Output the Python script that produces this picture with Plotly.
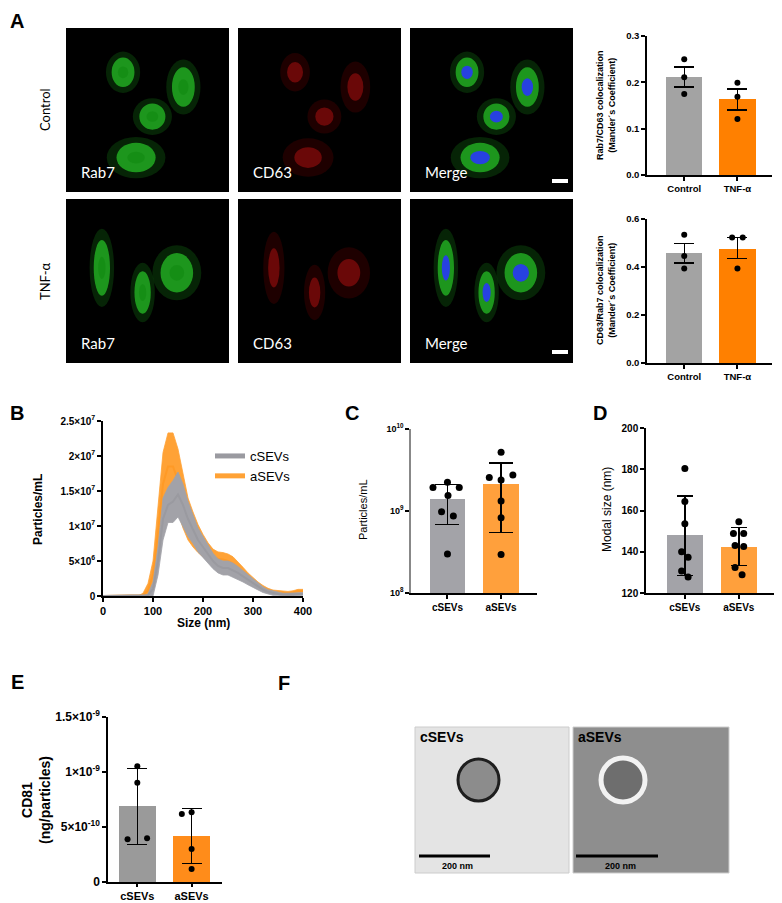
import plotly.graph_objects as go

W, H = 782, 903
OFF = 8  # the page body adds an 8 px margin, so shift everything back by it
FONT = "Liberation Sans, Arial, sans-serif"
NARROW = "Liberation Sans Narrow, Liberation Sans, Arial, sans-serif"
MICRO_FONT = "Lato, Noto Sans, sans-serif"

GREY_A, ORANGE_A = "#a3a3a3", "#ff8000"
GREY_C, ORANGE_C = "#a3a3a8", "#ffa03c"

# ---------------- data ----------------
# A - Mander's coefficients (mean +/- SEM, n = 3)
coloc_groups = ["Control", "TNF-α"]
rab7_cd63_mean = [0.212, 0.163]
rab7_cd63_hi = [0.233, 0.186]
rab7_cd63_lo = [0.190, 0.140]
rab7_cd63_pts = [[0.250, 0.211, 0.175], [0.199, 0.169, 0.121]]
cd63_rab7_mean = [0.457, 0.477]
cd63_rab7_hi = [0.499, 0.523]
cd63_rab7_lo = [0.417, 0.436]
cd63_rab7_pts = [[0.534, 0.446, 0.394], [0.523, 0.523, 0.394]]

# B - NTA size distribution (x10^6 particles/mL, mean +/- SEM)
nta_size = [0, 10, 20, 30, 40, 50, 60, 70, 80, 90, 100, 110, 120, 130, 140,
            150, 160, 170, 180, 190, 200, 210, 220, 230, 240, 250, 260, 270,
            280, 290, 300, 310, 320, 330, 340, 350, 360, 370, 380, 390, 400]
csev_mean = [0, 0, 0, 0, 0, 0, 0, 0, 0, 0.1, 1.0, 5.0, 11.0, 13.0, 13.5,
             14.5, 13.0, 11.0, 9.5, 8.0, 7.0, 6.0, 5.0, 4.3, 4.0, 4.0, 3.7, 3.3,
             2.8, 2.3, 1.8, 1.3, 0.9, 0.6, 0.4, 0.3, 0.2, 0.2, 0.2, 0.3, 0.3]
csev_sem = [0, 0, 0, 0, 0, 0, 0, 0, 0, 0.2, 1.0, 2.0, 3.0, 2.5, 3.0,
            3.2, 3.0, 2.5, 2.0, 1.7, 1.5, 1.3, 1.1, 1.0, 1.0, 1.0, 1.0, 0.9,
            0.8, 0.7, 0.6, 0.5, 0.4, 0.3, 0.3, 0.2, 0.2, 0.2, 0.2, 0.2, 0.2]
asev_mean = [0, 0, 0, 0, 0, 0, 0, 0, 0.1, 0.8, 3.0, 9.0, 16.0, 18.5, 18.5,
             16.5, 13.5, 11.0, 9.5, 8.2, 7.2, 6.3, 5.6, 5.3, 5.2, 5.0, 4.6, 4.0,
             3.3, 2.6, 2.0, 1.5, 1.1, 0.8, 0.6, 0.5, 0.4, 0.4, 0.5, 0.7, 0.7]
asev_sem = [0, 0, 0, 0, 0, 0, 0, 0, 0.3, 1.0, 2.0, 3.5, 4.5, 4.8, 4.8,
            4.5, 3.8, 3.0, 2.5, 2.0, 1.6, 1.3, 1.1, 1.0, 1.0, 1.0, 1.0, 0.9,
            0.8, 0.7, 0.6, 0.5, 0.4, 0.3, 0.25, 0.25, 0.25, 0.25, 0.25, 0.25, 0.25]

# C - particle concentration (particles/mL, mean +/- SD, n = 7)
sev_groups = ["cSEVs", "aSEVs"]
conc_mean = [1.39e9, 2.14e9]
conc_hi = [2.09e9, 3.83e9]
conc_lo = [6.9e8, 5.5e8]
conc_pts = [[1.93e9, 2.24e9, 1.93e9, 1.55e9, 9.8e8, 8.7e8, 3.0e8],
            [5.2e9, 2.57e9, 2.38e9, 2.74e9, 1.32e9, 8.3e8, 2.95e8]]
conc_jit = [[-0.27, 0.0, 0.22, 0.01, -0.11, 0.11, 0.0],
            [0.0, -0.22, 0.0, 0.22, 0.0, 0.0, 0.0]]

# D - modal size (nm, mean +/- SD, n = 7)
mode_mean = [148.0, 142.5]
mode_hi = [167.0, 151.8]
mode_lo = [128.4, 133.4]
mode_pts = [[180.4, 164.4, 153.6, 140.0, 137.3, 130.7, 127.8],
            [154.6, 148.8, 148.8, 143.0, 142.6, 132.4, 128.9]]
mode_jit = [[0.0, 0.0, 0.0, -0.06, 0.06, -0.06, 0.06],
            [0.0, -0.1, 0.09, -0.07, 0.09, -0.07, 0.06]]

# E - CD81 per particle (ng/particle, mean +/- SD, n = 4)
cd81_mean = [6.88e-10, 4.18e-10]
cd81_hi = [1.03e-9, 6.67e-10]
cd81_lo = [3.42e-10, 1.67e-10]
cd81_pts = [[1.052e-9, 9.03e-10, 3.88e-10, 3.97e-10],
            [6.18e-10, 6.33e-10, 3.0e-10, 1.18e-10]]
cd81_jit = [[0.0, 0.0, -0.18, 0.18], [-0.18, 0.0, 0.0, 0.0]]


def fx(p):
    return (p - OFF) / W


def fy(p):
    return 1 - (p - OFF) / H


fig = go.Figure()


def axis_pair(n, left, right, top, bottom, xrange, yrange, ylog=False):
    s = "" if n == 1 else str(n)
    line = dict(showline=True, linecolor="black", linewidth=1.5, ticks="outside",
                ticklen=4, tickwidth=1.5, tickcolor="black", showgrid=False,
                zeroline=False, automargin=False, fixedrange=True)
    fig.layout["xaxis" + s] = dict(domain=[fx(left), fx(right)], anchor="y" + s,
                                   range=xrange, **line)
    fig.layout["yaxis" + s] = dict(domain=[fy(bottom), fy(top)], anchor="x" + s,
                                   range=yrange, type="log" if ylog else "linear",
                                   **line)
    return s


def bar_panel(s, means, hi, lo, pts, jit, colors, width, cap, msize):
    xs, ys = [], []
    for i, vals in enumerate(pts):
        for v, o in zip(vals, jit[i]):
            xs.append(i + o)
            ys.append(v)
    fig.add_trace(go.Bar(
        x=[0, 1], y=means, width=width, marker=dict(color=colors, line_width=0),
        error_y=dict(type="data", symmetric=False,
                     array=[h - m for h, m in zip(hi, means)],
                     arrayminus=[m - l for m, l in zip(means, lo)],
                     color="black", thickness=1.4, width=cap),
        xaxis="x" + s, yaxis="y" + s, showlegend=False))
    fig.add_trace(go.Scatter(
        x=xs, y=ys, mode="markers", marker=dict(color="black", size=msize),
        xaxis="x" + s, yaxis="y" + s, showlegend=False))


def cat_ticks(s, labels, size, ticklen=4):
    fig.layout["xaxis" + s].update(tickvals=[0, 1], ticktext=labels, ticks="outside",
                                  ticklen=ticklen,
                                  tickfont=dict(family=FONT, size=size, color="black",
                                                weight="bold"))


def ytick_font(s, size, family=FONT):
    fig.layout["yaxis" + s].update(tickfont=dict(family=family, size=size,
                                                 color="black", weight="bold"))


zero_jit = [[0, 0, 0], [0, 0, 0]]

# A top: Rab7/CD63
s = axis_pair(1, 647, 772, 36, 175, [-0.7, 1.65], [0, 0.3])
bar_panel(s, rab7_cd63_mean, rab7_cd63_hi, rab7_cd63_lo, rab7_cd63_pts, zero_jit,
          [GREY_A, ORANGE_A], 0.68, 10, 6)
cat_ticks(s, coloc_groups, 9.5)
fig.layout.yaxis.update(tickvals=[0, 0.1, 0.2, 0.3], ticktext=["0.0", "0.1", "0.2", "0.3"])
ytick_font(s, 9.5)

# A bottom: CD63/Rab7
s = axis_pair(2, 647, 772, 219, 363, [-0.7, 1.65], [0, 0.6])
bar_panel(s, cd63_rab7_mean, cd63_rab7_hi, cd63_rab7_lo, cd63_rab7_pts,
          [[0, 0, 0], [-0.1, 0.1, 0]], [GREY_A, ORANGE_A], 0.68, 10, 6)
cat_ticks(s, coloc_groups, 9.5)
fig.layout.yaxis2.update(tickvals=[0, 0.2, 0.4, 0.6], ticktext=["0.0", "0.2", "0.4", "0.6"])
ytick_font(s, 9.5)

# B: NTA curves
s = axis_pair(3, 103, 303, 421, 596, [0, 400], [0, 2.5e7])
for mean, sem, band, line, name in [
        (asev_mean, asev_sem, "#ffa236", "#ff9a26", "aSEVs"),
        (csev_mean, csev_sem, "#a2a2a8", "#9a9aa0", "cSEVs")]:
    up = [(m + e) * 1e6 for m, e in zip(mean, sem)]
    lo = [max(m - e, 0) * 1e6 for m, e in zip(mean, sem)]
    fig.add_trace(go.Scatter(x=nta_size, y=up, mode="lines", line=dict(width=0.8, color=band),
                             xaxis="x3", yaxis="y3", showlegend=False, hoverinfo="skip"))
    fig.add_trace(go.Scatter(x=nta_size, y=lo, mode="lines", line=dict(width=0.8, color=band),
                             fill="tonexty", fillcolor=band, xaxis="x3", yaxis="y3",
                             showlegend=False, hoverinfo="skip"))
    fig.add_trace(go.Scatter(x=nta_size, y=[m * 1e6 for m in mean], mode="lines",
                             line=dict(width=2, color=line), name=name,
                             xaxis="x3", yaxis="y3", showlegend=False))
for name, col in [("cSEVs", "#9a9aa0"), ("aSEVs", "#ffa236")]:
    fig.add_trace(go.Scatter(x=[None], y=[None], mode="lines", name=name,
                             line=dict(width=5, color=col), xaxis="x3", yaxis="y3"))
fig.layout.xaxis3.update(tickvals=[0, 100, 200, 300, 400],
                         tickfont=dict(family=NARROW, size=11, color="black", weight="bold"))
fig.layout.yaxis3.update(
    tickvals=[0, 5e6, 1e7, 1.5e7, 2e7, 2.5e7],
    ticktext=["0", "5×10<sup>6</sup>", "1×10<sup>7</sup>", "1.5×10<sup>7</sup>",
              "2×10<sup>7</sup>", "2.5×10<sup>7</sup>"])
ytick_font(s, 10, NARROW)

# C: particle concentration (log)
s = axis_pair(4, 411, 537, 429, 593, [-0.68, 1.67], [8, 10], ylog=True)
bar_panel(s, conc_mean, conc_hi, conc_lo, conc_pts, conc_jit,
          [GREY_C, ORANGE_C], 0.66, 12, 7)
cat_ticks(s, sev_groups, 10)
fig.layout.yaxis4.update(tickvals=[1e8, 1e9, 1e10], linecolor="#888888",
                         ticktext=["10<sup>8</sup>", "10<sup>9</sup>", "10<sup>10</sup>"])
ytick_font(s, 9)

# D: modal size
s = axis_pair(5, 646, 775, 428, 593, [-0.72, 1.67], [120, 200])
bar_panel(s, mode_mean, mode_hi, mode_lo, mode_pts, mode_jit,
          [GREY_C, ORANGE_C], 0.67, 8, 7)
cat_ticks(s, sev_groups, 10)
fig.layout.yaxis5.update(tickvals=[120, 140, 160, 180, 200])
ytick_font(s, 10)

# E: CD81
s = axis_pair(6, 108, 222, 717, 882, [-0.54, 1.56], [0, 1.5e-9])
bar_panel(s, cd81_mean, cd81_hi, cd81_lo, cd81_pts, cd81_jit,
          ["#9a9a9a", "#ff8c1a"], 0.67, 10, 6)
cat_ticks(s, sev_groups, 11, ticklen=3)
fig.layout.yaxis6.update(
    tickvals=[0, 5e-10, 1e-9, 1.5e-9],
    ticktext=["0", "5×10<sup>-10</sup>", "1×10<sup>-9</sup>", "1.5×10<sup>-9</sup>"])
ytick_font(s, 12)

# ---------------- microscopy placeholders (panel A) ----------------
shapes = []
annots = []


def note(x, y, text, size, color="black", family=FONT, weight="normal",
         xanchor="center", angle=0):
    annots.append(dict(x=fx(x), y=fy(y), xref="paper", yref="paper", text=text,
                       showarrow=False, xanchor=xanchor, yanchor="middle",
                       textangle=angle,
                       font=dict(family=family, size=size, color=color, weight=weight)))


mic_left = [66, 238, 410]
mic_top = [28, 199]
mic_w, mic_h = 163, 164
row_cells = [
    [(0.35, 0.27, 0.07, 0.09), (0.72, 0.36, 0.07, 0.12), (0.53, 0.54, 0.08, 0.08),
     (0.43, 0.79, 0.12, 0.09)],
    [(0.22, 0.42, 0.05, 0.17), (0.47, 0.57, 0.05, 0.13), (0.68, 0.45, 0.1, 0.12)],
]


def ellipse(l, t, cx, cy, rx, ry, color):
    return dict(type="circle", xref="paper", yref="paper", layer="above",
                x0=fx(l + (cx - rx) * mic_w), x1=fx(l + (cx + rx) * mic_w),
                y0=fy(t + (cy + ry) * mic_h), y1=fy(t + (cy - ry) * mic_h),
                fillcolor=color, line_width=0)


for r, top in enumerate(mic_top):
    for c, left in enumerate(mic_left):
        shapes.append(dict(type="rect", xref="paper", yref="paper", layer="above",
                           x0=fx(left), x1=fx(left + mic_w), y0=fy(top + mic_h), y1=fy(top),
                           fillcolor="black", line_width=0))
        for cx, cy, rx, ry in row_cells[r]:
            if c == 1:
                shapes.append(ellipse(left, top, cx, cy, rx * 1.3, ry * 1.3, "rgba(150,0,0,0.2)"))
                shapes.append(ellipse(left, top, cx, cy, rx * 0.7, ry * 0.7, "rgba(220,20,20,0.4)"))
            else:
                shapes.append(ellipse(left, top, cx, cy, rx * 1.5, ry * 1.4, "rgba(20,120,20,0.3)"))
                shapes.append(ellipse(left, top, cx, cy, rx, ry, "rgba(40,200,40,0.7)"))
                if c == 2:
                    shapes.append(ellipse(left, top, cx, cy, rx * 0.5, ry * 0.45, "rgba(40,60,235,0.95)"))
                else:
                    shapes.append(ellipse(left, top, cx, cy, rx * 0.45, ry * 0.4, "rgba(20,140,20,0.8)"))
        note(left + 13, top + mic_h - 20, ["Rab7", "CD63", "Merge"][c], 15,
             color="white", family=MICRO_FONT, xanchor="left")
    shapes.append(dict(type="line", xref="paper", yref="paper", layer="above",
                       x0=fx(552), x1=fx(568), y0=fy(top + mic_h - 11), y1=fy(top + mic_h - 11),
                       line=dict(color="white", width=4)))

note(45, 110, "Control", 13, family=MICRO_FONT, angle=-90)
note(45, 281, "TNF-α", 13, family=MICRO_FONT, angle=-90)

# ---------------- TEM placeholders (panel F) ----------------
for left, right, bg in [(415, 569, "#e4e4e4"), (573, 729, "#8e8e8e")]:
    shapes.append(dict(type="rect", xref="paper", yref="paper", x0=fx(left), x1=fx(right),
                       y0=fy(873), y1=fy(727), fillcolor=bg, line=dict(color="#cccccc", width=1),
                       layer="above"))
shapes.append(dict(type="circle", xref="paper", yref="paper", layer="above",
                   x0=fx(458), x1=fx(499), y0=fy(801), y1=fy(759),
                   fillcolor="#8c8c8c", line=dict(color="#1e1e1e", width=3)))
shapes.append(dict(type="circle", xref="paper", yref="paper", layer="above",
                   x0=fx(601), x1=fx(645), y0=fy(802), y1=fy(758),
                   fillcolor="#6e6e6e", line=dict(color="#f2f2f2", width=5)))
for x0, x1 in [(419, 490), (576, 658)]:
    shapes.append(dict(type="line", xref="paper", yref="paper", layer="above",
                       x0=fx(x0), x1=fx(x1), y0=fy(856), y1=fy(856),
                       line=dict(color="black", width=3)))
    note((x0 + x1) / 2 + 3, 866, "200 nm", 9, weight="bold")
note(418, 737, "cSEVs", 14, weight="bold", xanchor="left")
note(576, 737, "aSEVs", 14, weight="bold", xanchor="left")

# ---------------- axis titles and panel letters ----------------
note(606, 105, "Rab7/CD63 colocalization<br>(Mander´s Coefficient)", 9, weight="bold", angle=-90)
note(606, 290, "CD63/Rab7 colocalization<br>(Mander´s Coefficient)", 9, weight="bold", angle=-90)
note(38, 510, "Particles/mL", 12, weight="bold", angle=-90)
note(363, 510, "Particles/mL", 11, angle=-90)
note(607, 510, "Modal size (nm)", 12, angle=-90)
note(36, 800, "CD81<br>(ng/particles)", 14, weight="bold", angle=-90)
note(203, 623, "Size (nm)", 12, family=NARROW, weight="bold")

for letter, x, y in [("A", 17, 21), ("B", 17, 413), ("C", 352, 413), ("D", 600, 413),
                     ("E", 17, 682), ("F", 284, 683)]:
    note(x, y, letter, 20, weight="bold")

fig.update_layout(
    width=W, height=H, margin=dict(l=0, r=0, t=0, b=0, autoexpand=False),
    paper_bgcolor="white", plot_bgcolor="white",
    shapes=shapes, annotations=annots, bargap=0,
    font=dict(family=FONT, color="black"),
    legend=dict(x=fx(210), y=fy(441), xanchor="left", yanchor="top",
                bgcolor="rgba(0,0,0,0)", font=dict(family=FONT, size=13),
                itemwidth=30, tracegroupgap=2, traceorder="normal"),
)

fig.write_html("out.html")
